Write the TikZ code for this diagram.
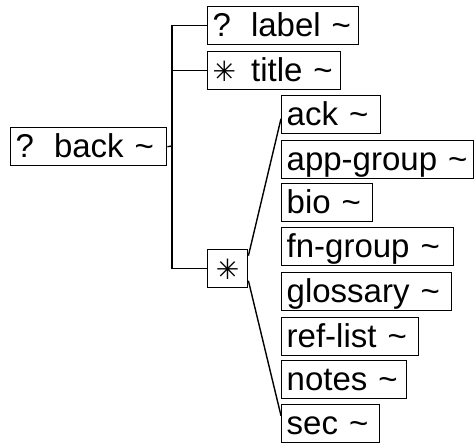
\documentclass[tikz,border=0pt]{standalone}
\usepackage{fontspec}
\setmainfont{Liberation Sans}
\newfontfamily\symfont{DejaVu Sans}
\usetikzlibrary{calc}
\tikzset{
  elem/.style={draw, line width=1.4pt, anchor=north west, minimum height=38pt,
    inner xsep=5pt, inner ysep=0pt, text height=26pt, text depth=4pt,
    font=\fontsize{33}{36}\selectfont, text width=#1},
  conn/.style={line width=1.4pt}
}
\newcommand{\opt}{?\hspace{20pt}}
\newcommand{\many}{{\symfont\fontsize{28}{30}\selectfont ✳}\hspace{15pt}}
\newcommand{\tl}{\ \textasciitilde}

\begin{document}
\begin{tikzpicture}[x=1pt,y=-1pt]
  %%%%% START %%%%%
  \useasboundingbox (0,0) rectangle (474,442);

  \node[elem=146pt] (back) at (10,127) {\mbox{\opt back\tl}};
  \node[elem=141pt] (label) at (207,6) {\mbox{\opt label\tl}};
  \node[elem=123pt] (title) at (207,51) {\mbox{\many title\tl}};
  \node[elem=40pt, inner xsep=0pt, align=center] (choice) at (207,249) {{\symfont\fontsize{28}{30}\selectfont ✳}};

  \node[elem=89pt] (ack) at (281,95) {\mbox{ack\tl}};
  \node[elem=182pt] (appgroup) at (281,140) {\mbox{app-group\tl}};
  \node[elem=81pt] (bio) at (281,183) {\mbox{bio\tl}};
  \node[elem=162pt] (fngroup) at (281,227) {\mbox{fn-group\tl}};
  \node[elem=160pt] (glossary) at (281,272) {\mbox{glossary\tl}};
  \node[elem=127pt] (reflist) at (281,317) {\mbox{ref-list\tl}};
  \node[elem=115pt] (notes) at (281,360) {\mbox{notes\tl}};
  \node[elem=88pt] (sec) at (281,404) {\mbox{sec\tl}};

  \coordinate (spine) at (172,146);
  \draw[conn] (back.east) -- (spine);
  \draw[conn] (label.west) -| (spine) |- (choice.west);
  \draw[conn] (title.west) -- (spine |- title.west);

  \draw[conn] ([yshift=13pt]choice.east) -- ([yshift=-4pt]ack.west);
  \draw[conn] ([yshift=-12pt]choice.east) -- ([yshift=8pt]sec.west);
  %%%%% END %%%%%
\end{tikzpicture}
\end{document}
